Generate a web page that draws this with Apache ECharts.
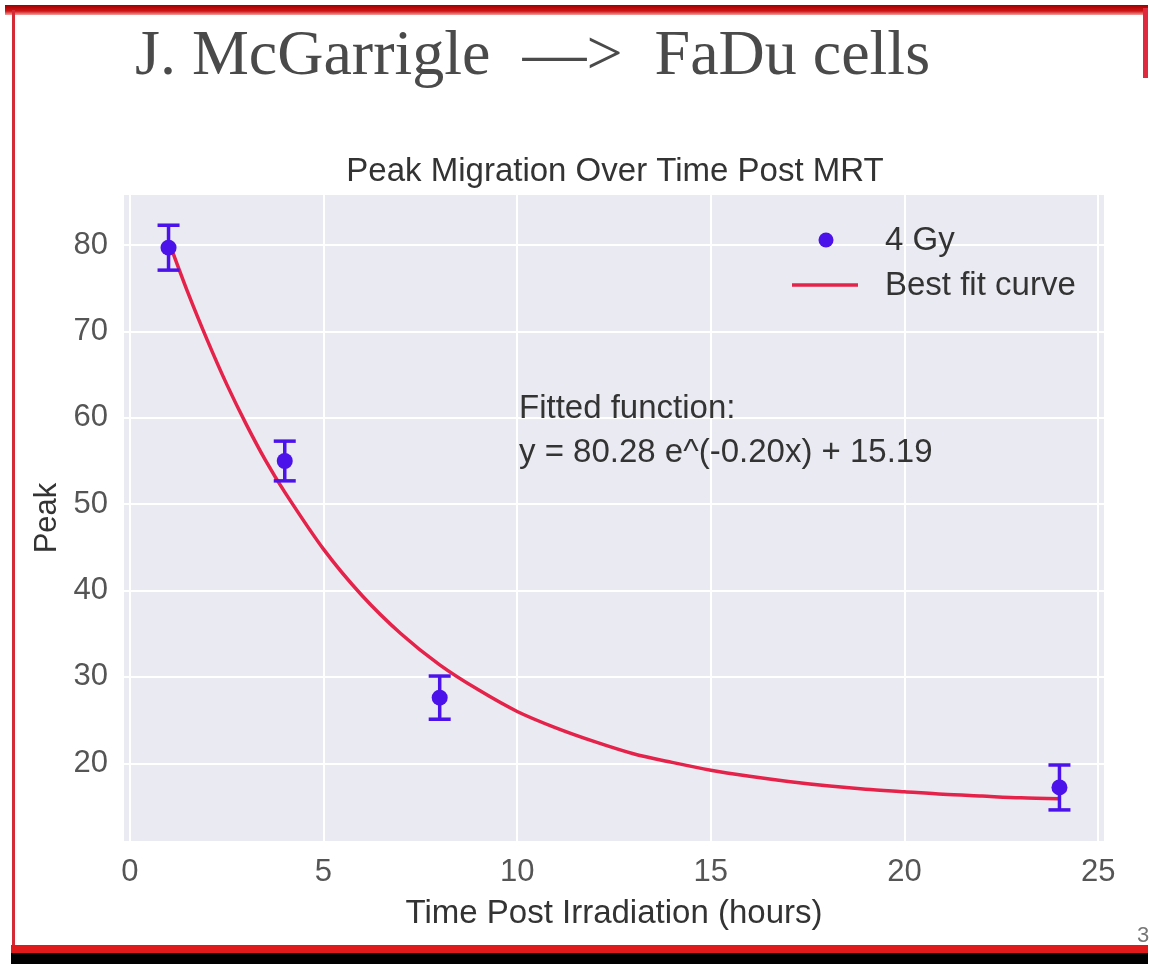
<!DOCTYPE html>
<html>
<head>
<meta charset="utf-8">
<title>Peak Migration Over Time Post MRT</title>
<script src="https://cdn.jsdelivr.net/npm/echarts@6/dist/echarts.min.js"></script>
<style>
  html, body { margin: 0; padding: 0; background: #ffffff; }
  #chart { width: 1158px; height: 964px; }
</style>
</head>
<body>
<div id="chart"></div>
<script>
// Measured peak position (hours after irradiation) for 4 Gy
const timeHours = [1, 4, 8, 24];
const peakValues = [79.7, 55.0, 27.6, 17.2];
const peakErrors = [2.6, 2.3, 2.5, 2.6];

// Best fit curve y = 80.28 e^(-0.20x) + 15.19, sampled along the time axis
const fitX = [1, 1.5, 2, 2.5, 3, 3.5, 4, 5, 6, 7, 8, 9, 10, 11, 12, 13, 14, 15, 16, 17, 18, 19, 20, 21, 22, 23, 24];
const fitY = [80.5, 74.5, 69.0, 63.9, 59.3, 55.1, 51.4, 44.8, 39.4, 35.0, 31.4, 28.5, 26.0, 24.1, 22.5, 21.1, 20.1, 19.2, 18.5, 17.9, 17.4, 17.0, 16.7, 16.4, 16.2, 16.0, 15.9];

const xTicks = [0, 5, 10, 15, 20, 25];
const yTicks = [20, 30, 40, 50, 60, 70, 80];

const chart = echarts.init(document.getElementById('chart'), null, { renderer: 'canvas' });

const sans = '"Liberation Sans", Arial, sans-serif';
const tickColor = '#555555';
const textColor = '#333333';
const pointColor = '#4c12ea';
const curveColor = '#e5234a';

const errorData = timeHours.map((t, i) => [t, peakValues[i] - peakErrors[i], peakValues[i] + peakErrors[i]]);
const pointData = timeHours.map((t, i) => [t, peakValues[i]]);
const fitData = fitX.map((x, i) => [x, fitY[i]]);

chart.setOption({
  backgroundColor: '#ffffff',
  animation: false,
  grid: { left: 124, right: 54, top: 195, bottom: 123, show: true, backgroundColor: '#eaeaf2', borderWidth: 0 },
  xAxis: {
    type: 'value', min: -0.15, max: 25.15,
    axisLine: { show: false }, axisTick: { show: false, customValues: xTicks },
    axisLabel: { customValues: xTicks, color: tickColor, fontFamily: sans, fontSize: 31, margin: 16 },
    splitLine: { show: true, lineStyle: { color: '#ffffff', width: 2 } },
    name: 'Time Post Irradiation (hours)', nameLocation: 'middle', nameGap: 56,
    nameTextStyle: { color: textColor, fontFamily: sans, fontSize: 33 }
  },
  yAxis: {
    type: 'value', min: 11.0, max: 85.8,
    axisLine: { show: false }, axisTick: { show: false, customValues: yTicks },
    axisLabel: { customValues: yTicks, color: tickColor, fontFamily: sans, fontSize: 31, margin: 16 },
    splitLine: { show: true, lineStyle: { color: '#ffffff', width: 2 } },
    name: 'Peak', nameLocation: 'middle', nameGap: 60, nameRotate: 90,
    nameTextStyle: { color: textColor, fontFamily: sans, fontSize: 31 }
  },
  series: [
    {
      name: 'Best fit curve', type: 'line', data: fitData, smooth: 0.3, showSymbol: false,
      lineStyle: { color: curveColor, width: 3.5 }, z: 2
    },
    {
      name: '4 Gy error', type: 'custom', data: errorData, z: 3,
      renderItem: function (params, api) {
        const top = api.coord([api.value(0), api.value(2)]);
        const bot = api.coord([api.value(0), api.value(1)]);
        const hw = 11;
        const style = { stroke: pointColor, lineWidth: 3.5 };
        return {
          type: 'group',
          children: [
            { type: 'line', shape: { x1: top[0], y1: top[1], x2: bot[0], y2: bot[1] }, style },
            { type: 'line', shape: { x1: top[0] - hw, y1: top[1], x2: top[0] + hw, y2: top[1] }, style },
            { type: 'line', shape: { x1: bot[0] - hw, y1: bot[1], x2: bot[0] + hw, y2: bot[1] }, style }
          ]
        };
      }
    },
    {
      name: '4 Gy', type: 'scatter', data: pointData, symbol: 'circle', symbolSize: 16,
      itemStyle: { color: pointColor, opacity: 1 }, z: 4
    }
  ],
  graphic: [
    // slide frame
    { type: 'rect', shape: { x: 5, y: 5, width: 1143, height: 10 }, style: { fill: new echarts.graphic.LinearGradient(0, 0, 0, 1, [{ offset: 0, color: '#a00000' }, { offset: 0.6, color: '#d01414' }, { offset: 1, color: '#f0a0a0' }]) }, z: 10 },
    { type: 'rect', shape: { x: 12, y: 10, width: 3, height: 940 }, style: { fill: '#d42a36' }, z: 10 },
    { type: 'rect', shape: { x: 1143, y: 8, width: 5, height: 70 }, style: { fill: '#e0283e' }, z: 10 },
    { type: 'rect', shape: { x: 11, y: 945, width: 1137, height: 8 }, style: { fill: '#e01a1a' }, z: 10 },
    { type: 'rect', shape: { x: 11, y: 953, width: 1137, height: 11 }, style: { fill: '#000000' }, z: 10 },
    // slide heading
    { type: 'text', x: 135, y: 25, style: { text: 'J. McGarrigle  \u2014>  FaDu cells', font: '64px "Liberation Serif", "DejaVu Serif", serif', fill: '#4a4a4a', verticalAlign: 'top' }, z: 10 },
    // plot title
    { type: 'text', x: 615, y: 172, style: { text: 'Peak Migration Over Time Post MRT', font: '33px ' + sans, fill: textColor, textAlign: 'center', textVerticalAlign: 'middle' }, z: 10 },
    // legend
    { type: 'circle', shape: { cx: 826, cy: 240, r: 7.5 }, style: { fill: pointColor }, z: 10 },
    { type: 'text', x: 885, y: 241, style: { text: '4 Gy', font: '33px ' + sans, fill: textColor, textVerticalAlign: 'middle' }, z: 10 },
    { type: 'line', shape: { x1: 792, y1: 285, x2: 858, y2: 285 }, style: { stroke: curveColor, lineWidth: 3.5 }, z: 10 },
    { type: 'text', x: 885, y: 286, style: { text: 'Best fit curve', font: '33px ' + sans, fill: textColor, textVerticalAlign: 'middle' }, z: 10 },
    // fitted function annotation
    { type: 'text', x: 519, y: 409, style: { text: 'Fitted function:', font: '33px ' + sans, fill: textColor, textVerticalAlign: 'middle' }, z: 10 },
    { type: 'text', x: 519, y: 453, style: { text: 'y = 80.28 e^(-0.20x) + 15.19', font: '33px ' + sans, fill: textColor, textVerticalAlign: 'middle' }, z: 10 },
    // page number
    { type: 'text', x: 1137, y: 936, style: { text: '3', font: '22px ' + sans, fill: '#777777', textVerticalAlign: 'middle' }, z: 10 }
  ]
});
</script>
</body>
</html>
